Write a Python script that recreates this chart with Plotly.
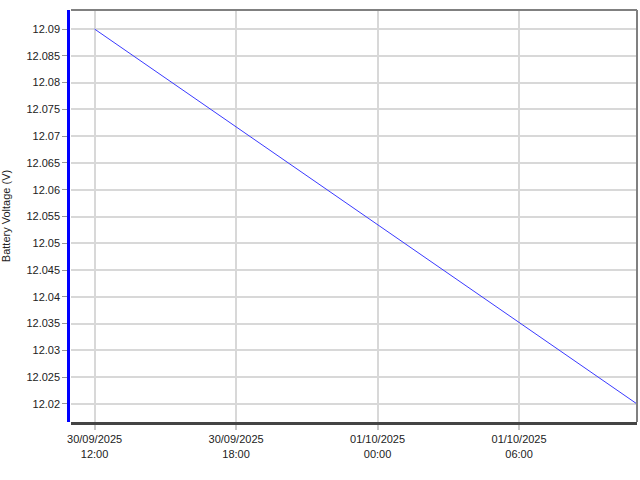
import plotly.graph_objects as go

# battery voltage readings
times = ["2025-09-30 12:00", "2025-10-01 11:00"]
voltage = [12.09, 12.02]

fig = go.Figure()

fig.add_trace(go.Scatter(
    x=times, y=voltage,
    mode="lines",
    line=dict(color="#3a3aff", width=1),
    showlegend=False,
    hoverinfo="skip"
))

fig.update_layout(
    width=640, height=480,
    paper_bgcolor="white",
    plot_bgcolor="white",
    font=dict(family="Liberation Sans, Arial, sans-serif", size=11, color="#222"),
    margin=dict(l=68, r=3, t=10, b=58, autoexpand=False),
    xaxis=dict(
        domain=[0.0053, 1],
        range=["2025-09-30 11:00", "2025-10-01 11:00"],
        tick0="2025-09-30 12:00",
        dtick=6 * 3600 * 1000,
        tickformat="%d/%m/%Y<br>%H:%M",
        showgrid=True, gridcolor="#d8d8d8", gridwidth=2,
        showline=True, linecolor="#444444", linewidth=3,
        ticks="outside", ticklen=5, tickcolor="#c8c8c8", tickwidth=2,
        zeroline=False, automargin=False,
    ),
    yaxis=dict(
        anchor="free", position=0,
        range=[12.01663, 12.09356],
        dtick=0.005, tick0=12.0,
        showgrid=True, gridcolor="#d8d8d8", gridwidth=2,
        showline=True, linecolor="#0000ff", linewidth=2.5,
        ticks="outside", ticklen=5, tickcolor="#999999", tickwidth=1,
        zeroline=False, automargin=False,
        title=dict(text="Battery Voltage (V)", standoff=13, font=dict(size=11)),
    ),
    shapes=[
        dict(type="line", xref="paper", yref="paper", x0=0.0053, x1=1, y0=1, y1=1,
             line=dict(color="#808080", width=2)),
        dict(type="line", xref="paper", yref="paper", x0=1, x1=1, y0=0, y1=1,
             line=dict(color="#808080", width=2)),
    ],
)

# drop the default page margin so the figure sits at the window's corner
fig.write_html(
    "out.html",
    config={"displayModeBar": False},
    post_script="document.body.style.margin='0';document.body.style.overflow='hidden';",
)
